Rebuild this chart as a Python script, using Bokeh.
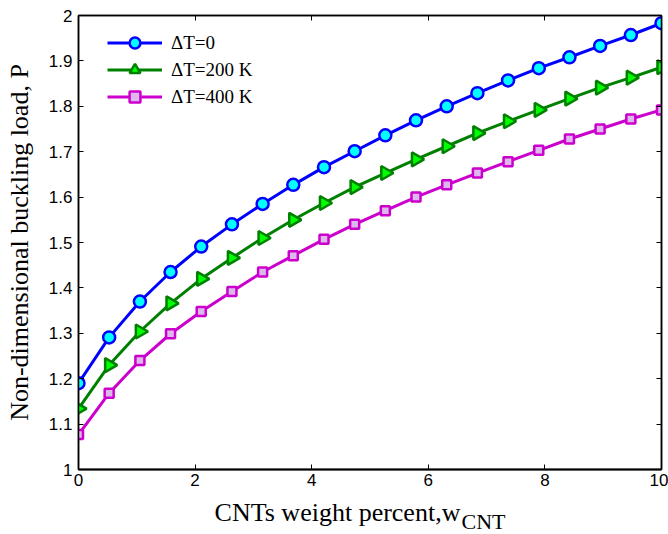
import numpy as np
from bokeh.plotting import figure
from bokeh.models import Range1d, FixedTicker, LinearAxis, Label
from bokeh.embed import file_html
from bokeh.resources import INLINE

# ---- data ----
wt_percent = [0, 0.526, 1.053, 1.579, 2.105, 2.632, 3.158, 3.684, 4.211, 4.737,
              5.263, 5.789, 6.316, 6.842, 7.368, 7.895, 8.421, 8.947, 9.474, 10]
p_dT0 = [1.190, 1.291, 1.370, 1.435, 1.491, 1.540, 1.585, 1.627, 1.666, 1.701,
         1.736, 1.769, 1.800, 1.829, 1.857, 1.884, 1.908, 1.933, 1.957, 1.983]
p_dT200 = [1.134, 1.230, 1.304, 1.366, 1.420, 1.466, 1.510, 1.550, 1.587, 1.622,
           1.653, 1.683, 1.712, 1.741, 1.767, 1.792, 1.817, 1.841, 1.863, 1.886]
p_dT400 = [1.077, 1.168, 1.240, 1.299, 1.348, 1.392, 1.435, 1.471, 1.507, 1.540,
           1.570, 1.600, 1.627, 1.653, 1.678, 1.703, 1.728, 1.750, 1.772, 1.792]
series_labels = ["\u0394T=0", "\u0394T=200 K", "\u0394T=400 K"]
x_ticks = [0, 2, 4, 6, 8, 10]
x_tick_labels = ["0", "2", "4", "6", "8", "10"]
y_ticks = [1, 1.1, 1.2, 1.3, 1.4, 1.5, 1.6, 1.7, 1.8, 1.9, 2]
y_tick_labels = ["1", "1.1", "1.2", "1.3", "1.4", "1.5", "1.6", "1.7", "1.8", "1.9", "2"]
x_label_main = "CNTs weight percent,w"
x_label_sub = "CNT"
y_label = "Non-dimensional buckling load, P"

SERIF = "Liberation Serif"
SANS = "Liberation Sans"

p = figure(width=668, height=534, output_backend="svg", toolbar_location=None,
           x_range=Range1d(0, 10), y_range=Range1d(1, 2),
           min_border_left=78, min_border_right=7, min_border_top=15,
           min_border_bottom=65)
p.grid.visible = False
p.outline_line_color = "black"
p.outline_line_width = 1.5
p.background_fill_color = "white"
p.border_fill_color = "white"

xt = FixedTicker(ticks=x_ticks)
yt = FixedTicker(ticks=y_ticks)

def style_axis(ax, show_labels):
    ax.major_tick_in = 5
    ax.major_tick_out = 0
    ax.minor_tick_in = 0
    ax.minor_tick_out = 0
    ax.axis_line_color = "black"
    ax.axis_line_width = 1.5
    ax.major_tick_line_color = "black"
    ax.major_tick_line_width = 1
    if show_labels:
        ax.major_label_text_font = SANS
        ax.major_label_text_font_size = "17px"
        ax.major_label_text_color = "black"
    else:
        ax.major_label_text_font_size = "1px"
        ax.major_label_text_color = None
        ax.major_label_standoff = 0

p.xaxis.ticker = xt
p.yaxis.ticker = yt
p.xaxis.major_label_overrides = {float(t): l for t, l in zip(x_ticks, x_tick_labels)}
p.yaxis.major_label_overrides = {float(t): l for t, l in zip(y_ticks, y_tick_labels)}
style_axis(p.xaxis[0], True)
style_axis(p.yaxis[0], True)
p.xaxis.axis_line_width = 2
p.xaxis.major_label_standoff = 4
p.yaxis.major_label_standoff = 6

p.yaxis.axis_label = y_label
p.yaxis.axis_label_text_font = SERIF
p.yaxis.axis_label_text_font_size = "26px"
p.yaxis.axis_label_text_font_style = "normal"
p.yaxis.axis_label_text_color = "black"
p.yaxis.axis_label_standoff = 12

top_ax = LinearAxis(ticker=xt)
style_axis(top_ax, False)
p.add_layout(top_ax, "above")
right_ax = LinearAxis(ticker=yt)
style_axis(right_ax, False)
p.add_layout(right_ax, "right")

# subscript of the x label (side panel, so it is not clipped by the frame)
p.add_layout(Label(x=6.57, y=0.8855, x_units="data", y_units="data",
                   text=x_label_sub, text_font=SERIF, text_font_size="22px",
                   text_color="black", text_baseline="alphabetic", text_align="left"),
             "below")
# main x label: label of a bare axis, pulled up with a negative standoff;
# trailing no-break spaces move the centred text to the left like the reference
lab_axis = LinearAxis(ticker=FixedTicker(ticks=[]), major_tick_in=0, major_tick_out=0,
                      minor_tick_in=0, minor_tick_out=0, axis_line_color=None,
                      major_label_text_color=None, major_label_text_font_size="1px",
                      major_label_standoff=0,
                      axis_label=x_label_main + "\u00a0" * 10,
                      axis_label_text_font=SERIF, axis_label_text_font_size="26px",
                      axis_label_text_font_style="normal", axis_label_text_color="black",
                      axis_label_standoff=-16)
p.add_layout(lab_axis, "below")

# series
p.line(wt_percent, p_dT0, line_color="#0000FF", line_width=3, legend_label=series_labels[0])
p.scatter(wt_percent, p_dT0, marker="circle", size=12, line_color="#0000FF", line_width=2.5,
          fill_color="#00FFFF", legend_label=series_labels[0])

p.line(wt_percent, p_dT200, line_color="#008000", line_width=3, legend_label=series_labels[1])
p.scatter(wt_percent, p_dT200, marker="triangle", angle=-np.pi / 2, size=14,
          line_color="#008000", line_width=2.5, fill_color="#00FF00",
          legend_label=series_labels[1])

p.line(wt_percent, p_dT400, line_color="#CC00CC", line_width=3, legend_label=series_labels[2])
p.scatter(wt_percent, p_dT400, marker="square", size=9, line_color="#CC00CC", line_width=2.5,
          fill_color="#DDB8EE", legend_label=series_labels[2])

leg = p.legend[0]
leg.location = (29, 359)
leg.border_line_color = None
leg.background_fill_color = "white"
leg.background_fill_alpha = 1
leg.padding = 0
leg.spacing = 0
leg.glyph_width = 55
leg.glyph_height = 27
leg.label_height = 20
leg.label_standoff = 9
leg.label_text_font = SERIF
leg.label_text_font_size = "19px"
leg.label_text_color = "black"
leg.label_text_baseline = "middle"

open("out.html", "w").write(file_html(p, INLINE))
